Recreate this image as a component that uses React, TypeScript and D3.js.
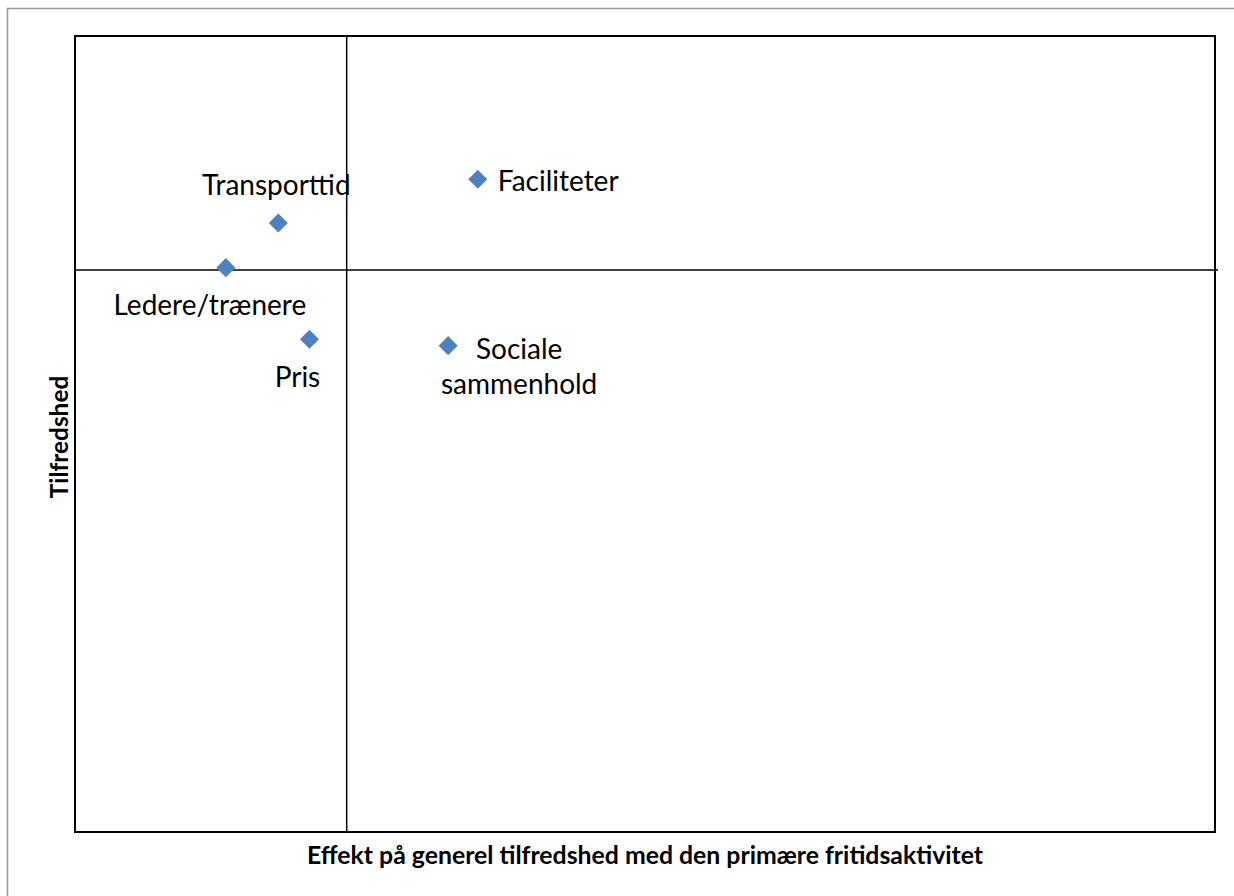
import React from 'react';
import * as d3 from 'd3';

// data (no ticks shown, so scales are arbitrary)
const labels = ['Transporttid', 'Faciliteter', 'Ledere/trænere', 'Pris', 'Sociale sammenhold'];
const effect = [0.0535, 0.106, 0.0397, 0.0617, 0.0982];
const satisfaction = [76.5, 82.0, 70.9, 61.9, 61.1];
const crossX = 0.0715;
const crossY = 70.6;

// where each data label sits relative to its marker
const labelLines: string[][] = [['Transporttid'], ['Faciliteter'], ['Ledere/trænere'], ['Pris'], ['Sociale', 'sammenhold']];
const labelOffset = [
  { dx: -2, dy: -28, anchor: 'middle' },
  { dx: 20, dy: 12, anchor: 'start' },
  { dx: -16, dy: 47, anchor: 'middle' },
  { dx: -12, dy: 48, anchor: 'middle' },
  { dx: 71, dy: 13, anchor: 'middle' },
];

const width = 1234;
const height = 896;
const plot = { left: 75, top: 36, right: 1215, bottom: 832 };
const font = 'Lato, "Open Sans", sans-serif';

const App = () => {
  const x = d3.scaleLinear().domain([0, 0.3]).range([plot.left, plot.right]);
  const y = d3.scaleLinear().domain([0, 100]).range([plot.bottom, plot.top]);
  const diamond = d3.symbol(d3.symbolSquare, 182)();

  const points = labels.map((name, i) => ({ name, x: effect[i], y: satisfaction[i] }));

  return (
    <svg width={width} height={height} style={{ position: 'absolute', left: 0, top: 0, background: '#fff' }}>
      {/* chart area border */}
      <rect x={7.5} y={8.5} width={width + 10} height={height + 10} fill="none" stroke="#999" strokeWidth={1.5} />

      {/* plot area */}
      <rect x={plot.left} y={plot.top} width={plot.right - plot.left} height={plot.bottom - plot.top}
        fill="none" stroke="#000" strokeWidth={2} />

      {/* quadrant lines */}
      <line x1={x(crossX)} x2={x(crossX)} y1={plot.top} y2={plot.bottom} stroke="#000" strokeWidth={1.5} />
      <line x1={plot.left} x2={plot.right + 3} y1={y(crossY)} y2={y(crossY)} stroke="#000" strokeWidth={1.5} />

      {points.map((d, i) => {
        const px = x(d.x);
        const py = y(d.y);
        const off = labelOffset[i];
        return (
          <g key={d.name}>
            <path d={diamond!} transform={`translate(${px},${py}) rotate(45)`} fill="#4F81BD" />
            <text x={px + off.dx} y={py + off.dy} textAnchor={off.anchor as any}
              fontFamily={font} fontSize={28} fill="#000">
              {labelLines[i].map((t, j) => (
                <tspan key={j} x={px + off.dx} dy={j === 0 ? 0 : 35}>{t}</tspan>
              ))}
            </text>
          </g>
        );
      })}

      {/* axis titles */}
      <text x={645} y={864} textAnchor="middle" fontFamily={font} fontSize={24.8} fontWeight="bold">
        Effekt på generel tilfredshed med den primære fritidsaktivitet
      </text>
      <text transform={`translate(68,437) rotate(-90)`} textAnchor="middle" fontFamily={font} fontSize={24.4} fontWeight="bold">
        Tilfredshed
      </text>
    </svg>
  );
};

export default App;
